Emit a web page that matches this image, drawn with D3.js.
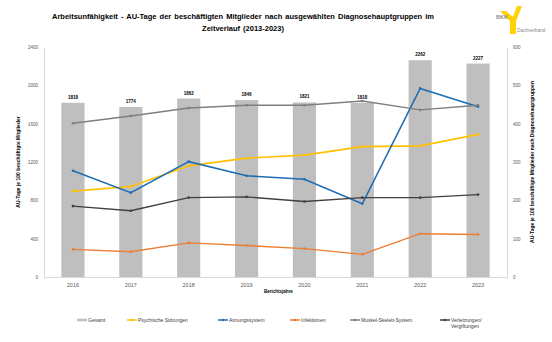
<!DOCTYPE html>
<html>
<head>
<meta charset="utf-8">
<script src="https://cdn.jsdelivr.net/npm/d3@7"></script>
<style>
  body { margin: 0; background: #fff; }
  svg { font-family: "Liberation Sans", Arial, sans-serif; }
  .tick text { fill: #595959; }
</style>
</head>
<body>
<script>
var years = ['2016', '2017', '2018', '2019', '2020', '2021', '2022', '2023'];

// Gesamt (linke Achse)
var gesamt = [1818, 1774, 1862, 1846, 1821, 1818, 2262, 2227];

// Diagnosehauptgruppen (rechte Achse)
var psychisch = [224, 236, 290, 310, 318, 340, 342, 372];
var atmung = [277, 220, 301, 264, 255, 191, 492, 444];
var infektionen = [72, 66, 89, 82, 74, 59, 113, 111];
var muskel = [401, 420, 441, 448, 448, 459, 436, 448];
var verletzungen = [185, 173, 207, 209, 197, 207, 207, 215];

var leftTicks = [0, 400, 800, 1200, 1600, 2000, 2400];
var rightTicks = [0, 100, 200, 300, 400, 500, 600];

var series = [
    { key: 'Psychische Störungen', values: psychisch, color: '#ffc000', w: 1.6 },
    { key: 'Atmungssystem', values: atmung, color: '#1f6db3', w: 1.6 },
    { key: 'Infektionen', values: infektionen, color: '#ed7d31', w: 1.4 },
    { key: 'Muskel-Skelett-System', values: muskel, color: '#7f7f7f', w: 1.4 },
    { key: 'Verletzungen/ Vergiftungen', values: verletzungen, color: '#404040', w: 1.4 }
];

var svg = d3.select('body').append('svg')
    .attr('width', 552)
    .attr('height', 342);

var margin = { top: 47, right: 45, bottom: 65, left: 44 },
    width = 552 - margin.left - margin.right,
    height = 342 - margin.top - margin.bottom,
    g = svg.append('g').attr('transform', 'translate(' + margin.left + ',' + margin.top + ')');

var x = d3.scaleBand().domain(years).range([0, width]).paddingInner(0.6).paddingOuter(0.3);
var y = d3.scaleLinear().domain([0, 2400]).range([height, 0]);
var y2 = d3.scaleLinear().domain([0, 600]).range([height, 0]);
var cx = function (i) { return x(years[i]) + x.bandwidth() / 2; };

// Titel
svg.append('text')
    .attr('x', 243).attr('y', 19)
    .style('text-anchor', 'middle')
    .style('font-size', '7.5px').style('font-weight', 'bold')
    .style('word-spacing', '1px')
    .text('Arbeitsunfähigkeit - AU-Tage der beschäftigten Mitglieder nach ausgewählten Diagnosehauptgruppen im');
svg.append('text')
    .attr('x', 243).attr('y', 31)
    .style('text-anchor', 'middle')
    .style('font-size', '7.5px').style('font-weight', 'bold')
    .style('word-spacing', '1px')
    .text('Zeitverlauf (2013-2023)');

// Logo
var logo = svg.append('g').attr('transform', 'translate(496,5)');
logo.append('path')
    .attr('d', 'M26,1 L20,16 L20,29 L14,29 L14,16 L4,6 L10,6 L17,12 L21,1 Z')
    .attr('fill', '#ffd200');
logo.append('text').attr('x', 0).attr('y', 14)
    .style('font-size', '5.5px').style('font-weight', 'bold').attr('fill', '#8c8c8c').text('BKK');
logo.append('text').attr('x', 21).attr('y', 27)
    .style('font-size', '4.8px').attr('fill', '#8c8c8c').text('Dachverband');

// Balken
g.selectAll('.bar')
    .data(gesamt)
    .enter().append('rect')
    .attr('class', 'bar')
    .attr('x', function (d, i) { return x(years[i]); })
    .attr('y', function (d) { return y(d); })
    .attr('width', x.bandwidth())
    .attr('height', function (d) { return height - y(d); })
    .attr('fill', '#bfbfbf');

g.selectAll('.barlabel')
    .data(gesamt)
    .enter().append('text')
    .attr('class', 'barlabel')
    .attr('x', function (d, i) { return cx(i); })
    .attr('y', function (d) { return y(d) - 4; })
    .style('text-anchor', 'middle')
    .style('font-size', '4.5px').style('font-weight', 'bold')
    .text(function (d) { return d; });

// Achsen
var fmt = d3.format('d');
var axisL = g.append('g').call(d3.axisLeft(y).tickValues(leftTicks).tickFormat(fmt).tickSize(0).tickPadding(6));
var axisR = g.append('g').attr('transform', 'translate(' + width + ',0)')
    .call(d3.axisRight(y2).tickValues(rightTicks).tickFormat(fmt).tickSize(0).tickPadding(6));
var axisB = g.append('g').attr('transform', 'translate(0,' + height + ')')
    .call(d3.axisBottom(x).tickSize(0).tickPadding(6));
[axisL, axisR, axisB].forEach(function (a) {
    a.select('.domain').attr('stroke', '#d9d9d9');
    a.selectAll('text').style('font-size', '4.5px').style('font-family', '"Liberation Sans", Arial, sans-serif');
});
axisB.selectAll('text').style('font-size', '5.5px');

g.append('text')
    .attr('x', width / 2 + 3).attr('y', height + 16)
    .style('text-anchor', 'middle')
    .style('font-size', '4.5px').style('font-weight', 'bold')
    .text('Berichtsjahre');

svg.append('text')
    .attr('transform', 'translate(20,' + (margin.top + height / 2) + ') rotate(-90)')
    .style('text-anchor', 'middle')
    .style('font-size', '5px').style('font-weight', 'bold')
    .text('AU-Tage je 100 beschäftigte Mitglieder');

svg.append('text')
    .attr('transform', 'translate(534,' + (margin.top + height / 2) + ') rotate(-90)')
    .style('text-anchor', 'middle')
    .style('font-size', '5px').style('font-weight', 'bold')
    .text('AU-Tage je 100 beschäftigte Mitglieder nach Diagnosehauptgruppen');

// Linien
var line = d3.line()
    .x(function (d, i) { return cx(i); })
    .y(function (d) { return y2(d); });

series.forEach(function (s) {
    g.append('path')
        .datum(s.values)
        .attr('fill', 'none')
        .attr('stroke', s.color)
        .attr('stroke-width', s.w)
        .attr('d', line);
    g.selectAll(null)
        .data(s.values)
        .enter().append('circle')
        .attr('cx', function (d, i) { return cx(i); })
        .attr('cy', function (d) { return y2(d); })
        .attr('r', 1.3)
        .attr('fill', s.color);
});

// Legende
var legendItems = [{ key: 'Gesamt', color: '#bfbfbf', bar: true }].concat(series);
var legendX = [77, 127, 218, 290, 350, 440];
var legend = svg.selectAll('.legend')
    .data(legendItems)
    .enter().append('g')
    .attr('class', 'legend')
    .attr('transform', function (d, i) { return 'translate(' + legendX[i] + ',320)'; });

legend.append('line')
    .attr('x1', 0).attr('x2', 10)
    .attr('stroke', function (d) { return d.color; })
    .attr('stroke-width', function (d) { return d.bar ? 2.5 : 1.5; });
legend.filter(function (d) { return !d.bar; })
    .append('circle').attr('cx', 5).attr('r', 1.2)
    .attr('fill', function (d) { return d.color; });

legend.append('text')
    .attr('x', 11).attr('dy', '0.35em')
    .style('font-size', '5px').attr('fill', '#404040')
    .each(function (d) {
        var parts = d.key.split(' ');
        var t = d3.select(this);
        if (d.key.indexOf('/') > 0) {
            t.append('tspan').attr('x', 11).text(parts[0]);
            t.append('tspan').attr('x', 11).attr('dy', '1.3em').text(parts[1]);
        } else {
            t.text(d.key);
        }
    });
</script>
</body>
</html>
